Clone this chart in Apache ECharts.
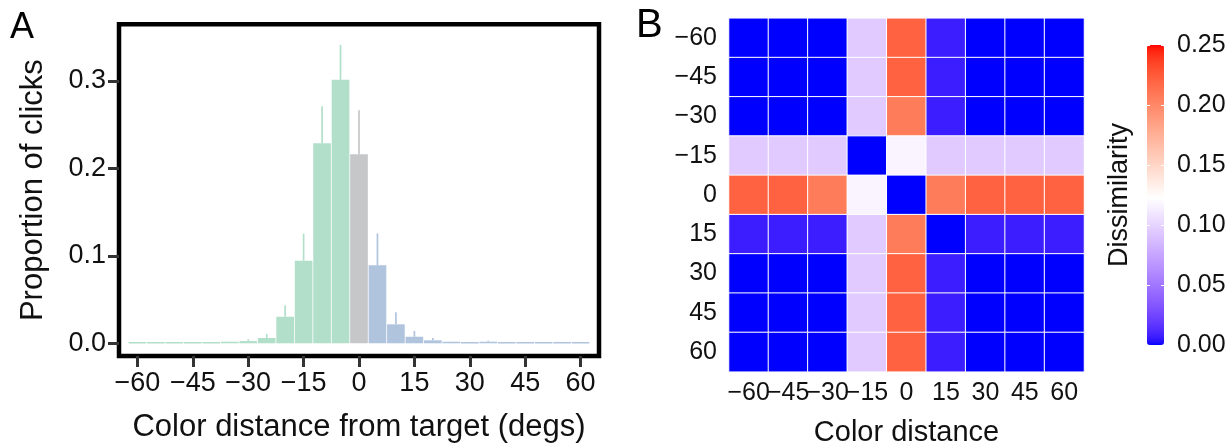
<!DOCTYPE html>
<html><head><meta charset="utf-8">
<script src="https://cdn.jsdelivr.net/npm/echarts@6/dist/echarts.min.js"></script>
<style>html,body{margin:0;padding:0;background:#fff}#c{width:1230px;height:444px}</style>
</head><body><div id="c"></div>
<script>
// ---------- Panel A data ----------
const binCenters = [-60,-55,-50,-45,-40,-35,-30,-25,-20,-15,-10,-5,0,5,10,15,20,25,30,35,40,45,50,55,60];
const proportions = [0.0015,0.0015,0.0015,0.0015,0.0015,0.0018,0.0025,0.0061,0.0304,0.0945,0.2288,0.3015,0.2162,0.0892,0.0217,0.0075,0.0034,0.0018,0.0015,0.0018,0.0015,0.0015,0.0015,0.0015,0.0015];
const upperErr    = [0.0015,0.0015,0.0015,0.0015,0.0015,0.0018,0.0045,0.0106,0.0435,0.1254,0.2711,0.3415,0.2665,0.1258,0.0355,0.0141,0.0061,0.0018,0.0015,0.0030,0.0015,0.0015,0.0015,0.0015,0.0015];
const xTicksA = [-60,-45,-30,-15,0,15,30,45,60];
const yTicksA = [0,0.1,0.2,0.3];

// ---------- Panel B data ----------
const heatLabels = [-60,-45,-30,-15,0,15,30,45,60];
// rows: y = -60 (top) ... 60 (bottom); columns: x = -60 ... 60
const dissimilarity = [
  [0,0,0,0.095,0.221,0.007,0,0,0],
  [0,0,0,0.095,0.221,0.007,0,0,0],
  [0,0,0,0.095,0.207,0.007,0,0,0],
  [0.095,0.095,0.095,0,0.117,0.095,0.095,0.095,0.095],
  [0.221,0.221,0.207,0.117,0,0.207,0.221,0.221,0.221],
  [0.007,0.007,0.007,0.095,0.207,0,0.007,0.007,0.007],
  [0,0,0,0.095,0.221,0.007,0,0,0],
  [0,0,0,0.095,0.221,0.007,0,0,0],
  [0,0,0,0.095,0.221,0.007,0,0,0]
];
const cbarTicks = [0,0.05,0.10,0.15,0.20,0.25];

// ---------- styling ----------
const FONT = 'Liberation Sans';
const GREEN = '#b2dfca', GRAY = '#c6c7c9', BLUE = '#b0c4de';
const fmtNum = v => (v < 0 ? '\u2212' + Math.abs(v) : String(v));

// diverging Lab gradient blue-white-red (like ggplot gradient2)
const CB_MIN = 0, CB_MAX = 0.25, CB_MID = 0.1225;
const LAB_BLUE = [32.30, 79.19, -107.86], LAB_WHITE = [100, 0, 0], LAB_RED = [53.24, 80.09, 67.20];
function lab2hex(L, a, b) {
  const fy = (L + 16) / 116, fx = fy + a / 500, fz = fy - b / 200;
  const finv = t => t > 6 / 29 ? t * t * t : 3 * (6 / 29) * (6 / 29) * (t - 4 / 29);
  const X = 0.95047 * finv(fx), Y = finv(fy), Z = 1.08883 * finv(fz);
  let r = 3.2406 * X - 1.5372 * Y - 0.4986 * Z;
  let g = -0.9689 * X + 1.8758 * Y + 0.0415 * Z;
  let bb = 0.0557 * X - 0.2040 * Y + 1.0570 * Z;
  const gam = c => { c = Math.min(1, Math.max(0, c)); return c <= 0.0031308 ? 12.92 * c : 1.055 * Math.pow(c, 1 / 2.4) - 0.055; };
  const h = c => ('0' + Math.round(gam(c) * 255).toString(16)).slice(-2);
  return '#' + h(r) + h(g) + h(bb);
}
function gradColor(v) {
  let A, B, t;
  if (v <= CB_MID) { A = LAB_BLUE; B = LAB_WHITE; t = (v - CB_MIN) / (CB_MID - CB_MIN); }
  else { A = LAB_WHITE; B = LAB_RED; t = (v - CB_MID) / (CB_MAX - CB_MID); }
  return lab2hex(A[0] + (B[0] - A[0]) * t, A[1] + (B[1] - A[1]) * t, A[2] + (B[2] - A[2]) * t);
}
const gradStops = [];
for (let i = 0; i <= 100; i++) gradStops.push(gradColor(CB_MIN + (CB_MAX - CB_MIN) * i / 100));

// ---------- build series data ----------
const barData = binCenters.map((c, i) => [c, proportions[i], upperErr[i]]);
const heatData = [];
dissimilarity.forEach((row, yi) => row.forEach((v, xi) => heatData.push([xi, yi, v])));

const chart = echarts.init(document.getElementById('c'), null, { renderer: 'canvas' });
const labelStyle = { fontFamily: FONT, color: '#111' };

chart.setOption({
  animation: false,
  backgroundColor: '#fff',
  textStyle: { fontFamily: FONT },
  grid: [
    { left: 119, top: 24.3, width: 480, height: 331.7, show: true, borderColor: '#000', borderWidth: 4.5, backgroundColor: 'transparent', containLabel: false, outerBoundsMode: 'none' },
    { left: 729, top: 18.3, width: 355, height: 353.4, containLabel: false, outerBoundsMode: 'none' },
    { left: 1147, top: 45, width: 17, height: 300, containLabel: false, outerBoundsMode: 'none' }
  ],
  xAxis: [
    { type: 'value', gridIndex: 0, min: -65, max: 65, position: 'bottom',
      axisLine: { show: false, onZero: false }, splitLine: { show: false },
      axisTick: { show: true, length: 11, lineStyle: { color: '#333', width: 3 }, customValues: xTicksA },
      axisLabel: { ...labelStyle, fontSize: 27, margin: 14, customValues: xTicksA, formatter: fmtNum },
      name: 'Color distance from target (degs)', nameLocation: 'middle', nameGap: 56,
      nameTextStyle: { fontFamily: FONT, fontSize: 31, color: '#111' } },
    { type: 'category', gridIndex: 1, data: heatLabels.map(fmtNum),
      axisLine: { show: false, onZero: false }, axisTick: { show: false }, splitLine: { show: false },
      axisLabel: { ...labelStyle, fontSize: 25, margin: 9, interval: 0 },
      name: 'Color distance', nameLocation: 'middle', nameGap: 47,
      nameTextStyle: { fontFamily: FONT, fontSize: 29, color: '#111' } },
    { type: 'value', gridIndex: 2, min: 0, max: 1, show: false }
  ],
  yAxis: [
    { type: 'value', gridIndex: 0, min: -0.01453, max: 0.3649, position: 'left',
      axisLine: { show: false, onZero: false }, splitLine: { show: false },
      axisTick: { show: true, length: 11, lineStyle: { color: '#333', width: 3 }, customValues: yTicksA },
      axisLabel: { ...labelStyle, fontSize: 27, margin: 13, customValues: yTicksA, formatter: v => v.toFixed(1) },
      name: 'Proportion of clicks', nameLocation: 'middle', nameGap: 70, nameRotate: 90,
      nameTextStyle: { fontFamily: FONT, fontSize: 31, color: '#111' } },
    { type: 'category', gridIndex: 1, data: heatLabels.map(fmtNum), inverse: true,
      axisLine: { show: false, onZero: false }, axisTick: { show: false }, splitLine: { show: false },
      axisLabel: { ...labelStyle, fontSize: 25, margin: 12, interval: 0 } },
    { type: 'value', gridIndex: 2, min: 0, max: 0.25, interval: 0.05, position: 'right', z: 10,
      axisLine: { show: false, onZero: false }, splitLine: { show: false },
      axisTick: { show: true, inside: true, length: 3, lineStyle: { color: '#fff', width: 1 } },
      axisLabel: { ...labelStyle, fontSize: 25, margin: 13, formatter: v => v.toFixed(2) } },
    { type: 'value', gridIndex: 2, min: 0, max: 0.25, interval: 0.05, position: 'left', z: 10,
      axisLine: { show: false, onZero: false }, splitLine: { show: false },
      axisTick: { show: true, inside: true, length: 3, lineStyle: { color: '#fff', width: 1 } },
      axisLabel: { show: false },
      name: 'Dissimilarity', nameLocation: 'middle', nameGap: 14, nameRotate: 90,
      nameTextStyle: { fontFamily: FONT, fontSize: 27, color: '#111' } }
  ],
  visualMap: {
    type: 'continuous', seriesIndex: 1, min: CB_MIN, max: CB_MAX,
    left: 1147, top: 45, itemWidth: 17, itemHeight: 300, padding: 0,
    calculable: false, realtime: false, orient: 'vertical', text: null,
    inRange: { color: gradStops }, hoverLink: false
  },
  graphic: [
    { type: 'text', left: 10, top: 10, style: { text: 'A', font: '36px "Liberation Sans"', fill: '#000' } },
    { type: 'text', left: 636, top: 6, style: { text: 'B', font: '40px "Liberation Sans"', fill: '#000' } }
  ],
  series: [
    { type: 'custom', xAxisIndex: 0, yAxisIndex: 0, data: barData, clip: false,
      renderItem: function (params, api) {
        const c = api.value(0), v = api.value(1), u = api.value(2);
        const p0 = api.coord([c - 2.5, 0]), p1 = api.coord([c + 2.5, v]);
        const color = c < 0 ? GREEN : (c === 0 ? GRAY : BLUE);
        const children = [{ type: 'rect',
          shape: { x: p0[0] + 0.4, y: p1[1], width: p1[0] - p0[0] - 0.8, height: Math.max(1.5, p0[1] - p1[1]) },
          style: { fill: color } }];
        if (u > v) {
          const e0 = api.coord([c, v]), e1 = api.coord([c, u]);
          children.push({ type: 'line', shape: { x1: e0[0], y1: e0[1], x2: e1[0], y2: e1[1] },
            style: { stroke: color, lineWidth: 1.7 } });
        }
        return { type: 'group', children };
      } },
    { type: 'heatmap', xAxisIndex: 1, yAxisIndex: 1, data: heatData,
      itemStyle: { borderColor: '#fff', borderWidth: 1 }, emphasis: { disabled: true } }
  ]
});
</script></body></html>
